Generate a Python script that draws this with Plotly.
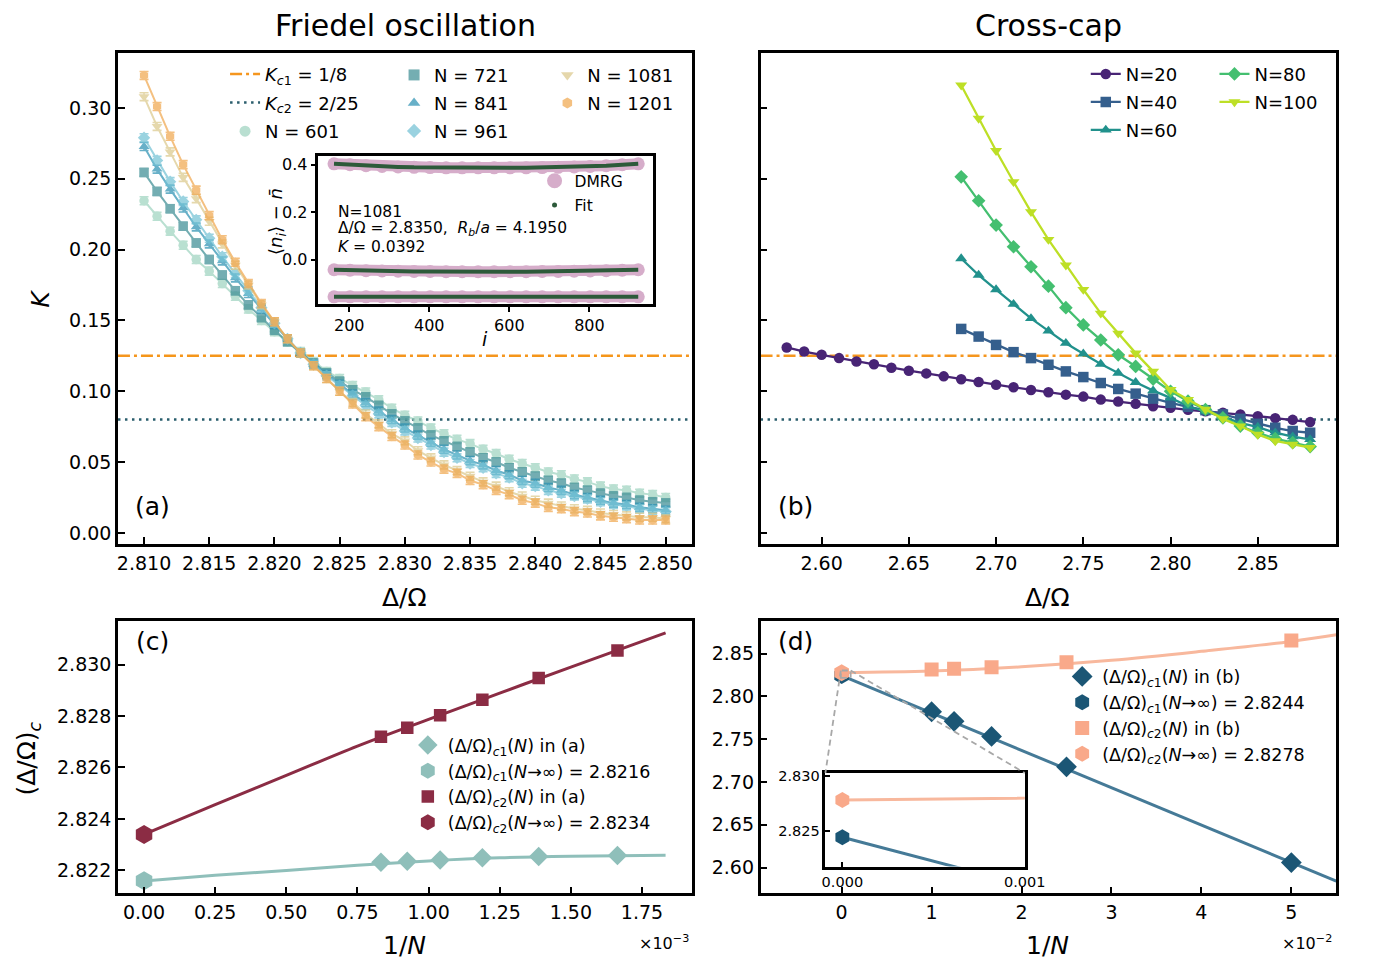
import plotly.graph_objects as go

W, H = 1375, 963
FONT = "DejaVu Sans"

# ---------------- panel (a): Friedel oscillation ----------------
delta_a = [2.810, 2.811, 2.812, 2.813, 2.814, 2.815, 2.816, 2.817, 2.818, 2.819,
           2.820, 2.821, 2.822, 2.823, 2.824, 2.825, 2.826, 2.827, 2.828, 2.829,
           2.830, 2.831, 2.832, 2.833, 2.834, 2.835, 2.836, 2.837, 2.838, 2.839,
           2.840, 2.841, 2.842, 2.843, 2.844, 2.845, 2.846, 2.847, 2.848, 2.849, 2.850]
K_601 = [0.2345, 0.2235, 0.213, 0.203, 0.193, 0.1848, 0.176, 0.167, 0.158, 0.150, 0.142, 0.135, 0.128,
         0.121, 0.114, 0.109, 0.104, 0.0995, 0.094, 0.088, 0.083, 0.079, 0.074, 0.070, 0.066, 0.063,
         0.059, 0.056, 0.052, 0.049, 0.046, 0.043, 0.041, 0.038, 0.036, 0.033, 0.031, 0.030, 0.028,
         0.027, 0.025]
K_721 = [0.2545, 0.2411, 0.2289, 0.2165, 0.2047, 0.193, 0.182, 0.171, 0.161, 0.152, 0.143, 0.135, 0.127,
         0.120, 0.113, 0.107, 0.101, 0.096, 0.090, 0.084, 0.079, 0.074, 0.069, 0.065, 0.061, 0.057,
         0.053, 0.050, 0.046, 0.043, 0.040, 0.037, 0.035, 0.032, 0.030, 0.028, 0.026, 0.025, 0.023,
         0.022, 0.021]
K_841 = [0.2728, 0.2568, 0.2427, 0.2294, 0.216, 0.204, 0.192, 0.180, 0.169, 0.158, 0.147, 0.137, 0.127,
         0.119, 0.112, 0.105, 0.098, 0.092, 0.086, 0.080, 0.074, 0.069, 0.064, 0.059, 0.055, 0.051,
         0.048, 0.044, 0.041, 0.037, 0.035, 0.032, 0.030, 0.027, 0.025, 0.023, 0.021, 0.020, 0.018,
         0.017, 0.016]
K_961 = [0.279, 0.263, 0.248, 0.234, 0.221, 0.208, 0.195, 0.183, 0.171, 0.159, 0.148, 0.137, 0.127,
         0.119, 0.111, 0.104, 0.097, 0.090, 0.084, 0.078, 0.072, 0.067, 0.062, 0.057, 0.053, 0.049,
         0.046, 0.042, 0.039, 0.035, 0.033, 0.030, 0.028, 0.026, 0.024, 0.022, 0.020, 0.019, 0.017,
         0.016, 0.015]
K_1081 = [0.308, 0.287, 0.269, 0.251, 0.236, 0.220, 0.204, 0.189, 0.175, 0.161, 0.149, 0.137, 0.127,
          0.118, 0.109, 0.100, 0.092, 0.084, 0.077, 0.070, 0.065, 0.058, 0.053, 0.048, 0.044, 0.040,
          0.036, 0.033, 0.029, 0.026, 0.023, 0.021, 0.019, 0.017, 0.016, 0.014, 0.013, 0.012, 0.011,
          0.011, 0.010]
K_1201 = [0.323, 0.301, 0.280, 0.260, 0.242, 0.224, 0.207, 0.191, 0.176, 0.162, 0.149, 0.137, 0.127,
          0.118, 0.109, 0.100, 0.091, 0.082, 0.075, 0.068, 0.062, 0.055, 0.050, 0.045, 0.042, 0.037,
          0.034, 0.030, 0.027, 0.023, 0.021, 0.018, 0.017, 0.015, 0.014, 0.012, 0.011, 0.010, 0.009,
          0.009, 0.009]
K_err = 0.0028
Kc1 = 1 / 8
Kc2 = 2 / 25

# inset of (a): density profile, N=1081
site_i = [162, 202, 242, 282, 322, 362, 402, 442, 482, 522,
          562, 602, 642, 682, 722, 762, 802, 842, 882, 922]
dn_top = [0.404, 0.400, 0.396, 0.393, 0.391, 0.389, 0.388, 0.387, 0.387, 0.387,
          0.387, 0.387, 0.387, 0.388, 0.389, 0.391, 0.393, 0.396, 0.400, 0.404]
dn_mid = [-0.042, -0.044, -0.046, -0.047, -0.048, -0.049, -0.049, -0.050, -0.050, -0.050,
          -0.050, -0.050, -0.050, -0.049, -0.049, -0.048, -0.047, -0.046, -0.044, -0.042]
dn_bot = [-0.156, -0.156, -0.156, -0.156, -0.156, -0.156, -0.156, -0.156, -0.156, -0.156,
          -0.156, -0.156, -0.156, -0.156, -0.156, -0.156, -0.156, -0.156, -0.156, -0.156]

# ---------------- panel (b): Cross-cap ----------------
delta_b20 = [2.58, 2.59, 2.60, 2.61, 2.62, 2.63, 2.64, 2.65, 2.66, 2.67, 2.68, 2.69, 2.70, 2.71, 2.72,
             2.73, 2.74, 2.75, 2.76, 2.77, 2.78, 2.79, 2.80, 2.81, 2.82, 2.83, 2.84, 2.85, 2.86, 2.87, 2.88]
delta_b = [2.68, 2.69, 2.70, 2.71, 2.72, 2.73, 2.74, 2.75, 2.76, 2.77, 2.78,
           2.79, 2.80, 2.81, 2.82, 2.83, 2.84, 2.85, 2.86, 2.87, 2.88]
K_b20 = [0.1309, 0.128, 0.1257, 0.1234, 0.121, 0.1191, 0.1166, 0.1145, 0.1126, 0.1105, 0.1084,
         0.1065, 0.1046, 0.1028, 0.1009, 0.0993, 0.0976, 0.0962, 0.0941, 0.0927, 0.0911, 0.0894,
         0.0883, 0.0869, 0.0859, 0.0848, 0.0836, 0.0824, 0.0810, 0.0798, 0.0782]
K_b40 = [0.144, 0.1386, 0.1327, 0.1276, 0.1234, 0.1187, 0.114, 0.110, 0.1058, 0.1016, 0.0983,
         0.0948, 0.0918, 0.089, 0.0866, 0.0836, 0.0805, 0.077, 0.0742, 0.0719, 0.0707]
K_b60 = [0.1937, 0.182, 0.1718, 0.1615, 0.1514, 0.1426, 0.1339, 0.1264, 0.1192, 0.1128, 0.1063,
         0.1004, 0.0953, 0.0894, 0.0859, 0.0819, 0.0777, 0.0747, 0.0707, 0.0679, 0.066]
K_b80 = [0.2514, 0.2345, 0.2173, 0.202, 0.1879, 0.1742, 0.159, 0.1468, 0.1362, 0.1257, 0.1175,
         0.1086, 0.100, 0.093, 0.0871, 0.0812, 0.0754, 0.0707, 0.0665, 0.0637, 0.0609]
K_b100 = [0.3161, 0.2926, 0.2698, 0.2479, 0.2267, 0.2071, 0.189, 0.1718, 0.155, 0.1409, 0.1269,
          0.114, 0.1011, 0.0941, 0.0871, 0.0805, 0.0754, 0.0695, 0.0649, 0.0625, 0.0602]

# ---------------- panel (c): extrapolation of (a) ----------------
N_c = [1201, 1081, 961, 841, 721, 601]
dc1_a = [2.82232, 2.82236, 2.82241, 2.82249, 2.82254, 2.82258]
dc2_a = [2.82719, 2.82754, 2.82803, 2.82863, 2.82948, 2.83055]
dc1_inf = 2.8216
dc2_inf = 2.8234
fit_c_x = [0.0, 0.00025, 0.0005, 0.00075, 0.001, 0.00125, 0.0015, 0.001833]
fit_c1_y = [2.82159, 2.82181, 2.82200, 2.82220, 2.82237, 2.82249, 2.82255, 2.82259]
fit_c2_y = [2.8234, 2.82456, 2.82569, 2.82683, 2.82787, 2.82889, 2.82990, 2.83123]

# ---------------- panel (d): extrapolation of (b) ----------------
N_d = [100, 80, 60, 40, 20]
dd1_b = [2.7821, 2.7709, 2.7532, 2.7177, 2.6058]
dd2_b = [2.8315, 2.8323, 2.8342, 2.8400, 2.8654]
dd1_inf = 2.8244
dd2_inf = 2.8278
fit_d_x = [0.0, 0.01, 0.02, 0.03, 0.04, 0.05, 0.055]
fit_d1_y = [2.8244, 2.7807, 2.7370, 2.6933, 2.6496, 2.6058, 2.5840]
fit_d2_y = [2.8278, 2.8296, 2.8346, 2.8423, 2.8527, 2.8643, 2.8720]

# ---------------- styling ----------------
C601, C721, C841, C961, C1081, C1201 = '#9fd4c0', '#3f8f95', '#2e92b3', '#74c2d5', '#dcc98c', '#f0a850'
ORANGE, DKTEAL = '#f5961e', '#2a5d6c'
V20, V40, V60, V80, V100 = '#482475', '#355f8d', '#21918c', '#44bf70', '#bddf26'
TEAL_C, RED_C = '#8fbfba', '#8b2c44'
BLUE_D, BLUE_DL, SAL_D, SAL_DL = '#1b5675', '#457a97', '#f9a98a', '#f8b89d'
PINK, DGREEN = '#d6adca', '#2d5a3a'

XA_RANGE = [2.808, 2.852]
XB_RANGE = [2.565, 2.895]
Y_AB_RANGE = [-0.008, 0.339]
XC_RANGE = [-0.0917, 1.925]    # units of 1e-3
YC_RANGE = [2.82111, 2.8317]
XD_RANGE = [-0.902, 5.5]       # units of 1e-2
YD_RANGE = [2.5698, 2.8884]
XIA_RANGE = [123, 960]
YIA_RANGE = [-0.188, 0.436]
XID_RANGE = [-0.000093, 0.0010008]
YID_RANGE = [2.82173, 2.83027]


def px(x):
    return x / W


def py(y):
    return 1 - y / H


DOM = {
    'a': ([px(117), px(701)], [py(542), py(48)]),
    'b': ([px(771), px(1357)], [py(542), py(48)]),
    'c': ([px(117), px(701)], [py(893), py(619)]),
    'd': ([px(771), px(1357)], [py(893), py(619)]),
    'ia': ([px(321), px(662)], [py(301), py(152)]),
    'id': ([px(837), px(1040)], [py(866), py(772)]),
}

fig = go.Figure()

# ---- panel (a) ----
series_a = [("N = 601", K_601, C601, "circle", "legend"),
            ("N = 721", K_721, C721, "square", "legend2"),
            ("N = 841", K_841, C841, "triangle-up", "legend2"),
            ("N = 961", K_961, C961, "diamond", "legend2"),
            ("N = 1081", K_1081, C1081, "triangle-down", "legend3"),
            ("N = 1201", K_1201, C1201, "hexagon", "legend3")]

for xax, yax, rng, show in [('x', 'y', XA_RANGE, True), ('x2', 'y2', XB_RANGE, False)]:
    fig.add_trace(go.Scatter(x=rng, y=[Kc1, Kc1], mode='lines', xaxis=xax, yaxis=yax,
                             line=dict(color=ORANGE, width=2.5, dash='12px,4px,3px,4px'),
                             name='<i>K</i><sub><i>c</i>1</sub> = 1/8', showlegend=show,
                             legend='legend', legendgroup='kc1'))
    fig.add_trace(go.Scatter(x=rng, y=[Kc2, Kc2], mode='lines', xaxis=xax, yaxis=yax,
                             line=dict(color=DKTEAL, width=2.5, dash='2.5px,4.5px'),
                             name='<i>K</i><sub><i>c</i>2</sub> = 2/25', showlegend=show,
                             legend='legend', legendgroup='kc2'))

for name, K, col, sym, leg in series_a:
    fig.add_trace(go.Scatter(x=delta_a, y=K, mode='lines+markers', xaxis='x', yaxis='y',
                             line=dict(color=col, width=2), opacity=0.72,
                             marker=dict(symbol=sym, size=9.5, color=col),
                             error_y=dict(type='constant', value=K_err, color=col, thickness=1.6, width=4.5),
                             showlegend=False))
    fig.add_trace(go.Scatter(x=[None], y=[None], mode='markers', xaxis='x', yaxis='y',
                             marker=dict(symbol=sym, size=11, color=col), opacity=0.72,
                             name=name, legend=leg, legendgroup=name))

# inset (a)
for band in (dn_top, dn_mid, dn_bot):
    fig.add_trace(go.Scatter(x=site_i, y=band, mode='lines+markers', xaxis='x5', yaxis='y5',
                             line=dict(color=PINK, width=11), marker=dict(size=13, color=PINK),
                             showlegend=False))
for band in (dn_top, dn_mid, dn_bot):
    fig.add_trace(go.Scatter(x=site_i, y=band, mode='lines', xaxis='x5', yaxis='y5',
                             line=dict(color=DGREEN, width=4), showlegend=False))
fig.add_trace(go.Scatter(x=[None], y=[None], mode='markers', xaxis='x5', yaxis='y5',
                         marker=dict(size=15, color=PINK), name='DMRG', legend='legend6',
                         legendgroup='dmrg'))
fig.add_trace(go.Scatter(x=[None], y=[None], mode='markers', xaxis='x5', yaxis='y5',
                         marker=dict(size=5, color=DGREEN), name='Fit', legend='legend6',
                         legendgroup='fit'))

# ---- panel (b) ----
series_b = [("N=20", delta_b20, K_b20, V20, "circle", "legend4"),
            ("N=40", delta_b, K_b40, V40, "square", "legend4"),
            ("N=60", delta_b, K_b60, V60, "triangle-up", "legend4"),
            ("N=80", delta_b, K_b80, V80, "diamond", "legend5"),
            ("N=100", delta_b, K_b100, V100, "triangle-down", "legend5")]
for name, xs, K, col, sym, leg in series_b:
    fig.add_trace(go.Scatter(x=xs, y=K, mode='lines+markers', xaxis='x2', yaxis='y2',
                             line=dict(color=col, width=2.3), marker=dict(symbol=sym, size=10.5, color=col),
                             name=name, legend=leg, legendgroup=name))

# ---- panel (c) ----
inv_c = [1e3 / n for n in N_c]
fit_cx = [v * 1e3 for v in fit_c_x]
fig.add_trace(go.Scatter(x=fit_cx, y=fit_c1_y, mode='lines', xaxis='x3', yaxis='y3',
                         line=dict(color=TEAL_C, width=3, shape='spline'), showlegend=False))
fig.add_trace(go.Scatter(x=fit_cx, y=fit_c2_y, mode='lines', xaxis='x3', yaxis='y3',
                         line=dict(color=RED_C, width=3, shape='spline'), showlegend=False))
fig.add_trace(go.Scatter(x=inv_c, y=dc1_a, mode='markers', xaxis='x3', yaxis='y3',
                         marker=dict(symbol='diamond', size=15, color=TEAL_C),
                         name='(Δ/Ω)<sub><i>c</i>1</sub>(<i>N</i>) in (a)', legend='legend7', legendgroup='c1'))
fig.add_trace(go.Scatter(x=[0], y=[dc1_inf], mode='markers', xaxis='x3', yaxis='y3',
                         marker=dict(symbol='hexagon', size=19, color=TEAL_C),
                         name='(Δ/Ω)<sub><i>c</i>1</sub>(<i>N</i>→∞) = 2.8216', legend='legend7',
                         legendgroup='c1i'))
fig.add_trace(go.Scatter(x=inv_c, y=dc2_a, mode='markers', xaxis='x3', yaxis='y3',
                         marker=dict(symbol='square', size=12.5, color=RED_C),
                         name='(Δ/Ω)<sub><i>c</i>2</sub>(<i>N</i>) in (a)', legend='legend7', legendgroup='c2'))
fig.add_trace(go.Scatter(x=[0], y=[dc2_inf], mode='markers', xaxis='x3', yaxis='y3',
                         marker=dict(symbol='hexagon', size=19, color=RED_C),
                         name='(Δ/Ω)<sub><i>c</i>2</sub>(<i>N</i>→∞) = 2.8234', legend='legend7',
                         legendgroup='c2i'))

# ---- panel (d) ----
inv_d = [1e2 / n for n in N_d]
fit_dx = [v * 1e2 for v in fit_d_x]
fig.add_trace(go.Scatter(x=fit_dx, y=fit_d1_y, mode='lines', xaxis='x4', yaxis='y4',
                         line=dict(color=BLUE_DL, width=3), showlegend=False))
fig.add_trace(go.Scatter(x=fit_dx, y=fit_d2_y, mode='lines', xaxis='x4', yaxis='y4',
                         line=dict(color=SAL_DL, width=3, shape='spline'), showlegend=False))
fig.add_trace(go.Scatter(x=inv_d, y=dd1_b, mode='markers', xaxis='x4', yaxis='y4',
                         marker=dict(symbol='diamond', size=16, color=BLUE_D),
                         name='(Δ/Ω)<sub><i>c</i>1</sub>(<i>N</i>) in (b)', legend='legend8', legendgroup='d1'))
fig.add_trace(go.Scatter(x=[0], y=[dd1_inf], mode='markers', xaxis='x4', yaxis='y4',
                         marker=dict(symbol='hexagon', size=17, color=BLUE_D),
                         name='(Δ/Ω)<sub><i>c</i>1</sub>(<i>N</i>→∞) = 2.8244', legend='legend8',
                         legendgroup='d1i'))
fig.add_trace(go.Scatter(x=inv_d, y=dd2_b, mode='markers', xaxis='x4', yaxis='y4',
                         marker=dict(symbol='square', size=14, color=SAL_D),
                         name='(Δ/Ω)<sub><i>c</i>2</sub>(<i>N</i>) in (b)', legend='legend8', legendgroup='d2'))
fig.add_trace(go.Scatter(x=[0], y=[dd2_inf], mode='markers', xaxis='x4', yaxis='y4',
                         marker=dict(symbol='hexagon', size=17, color=SAL_D),
                         name='(Δ/Ω)<sub><i>c</i>2</sub>(<i>N</i>→∞) = 2.8278', legend='legend8',
                         legendgroup='d2i'))

# inset (d)
fig.add_trace(go.Scatter(x=fit_d_x, y=fit_d2_y, mode='lines', xaxis='x6', yaxis='y6',
                         line=dict(color=SAL_DL, width=3), showlegend=False))
fig.add_trace(go.Scatter(x=fit_d_x, y=fit_d1_y, mode='lines', xaxis='x6', yaxis='y6',
                         line=dict(color=BLUE_DL, width=3), showlegend=False))
fig.add_trace(go.Scatter(x=[0], y=[dd1_inf], mode='markers', xaxis='x6', yaxis='y6',
                         marker=dict(symbol='hexagon', size=16, color=BLUE_D), showlegend=False))
fig.add_trace(go.Scatter(x=[0], y=[dd2_inf], mode='markers', xaxis='x6', yaxis='y6',
                         marker=dict(symbol='hexagon', size=16, color=SAL_D), showlegend=False))

# ---------------- axes ----------------
def axis(dom, rng, anchor, size=19, ticks='inside', tlen=7, **kw):
    d = dict(domain=dom, range=rng, anchor=anchor, showline=True, linecolor='black', linewidth=2.5,
             mirror=True, ticks=ticks, ticklen=tlen, tickwidth=1.6, tickcolor='black',
             showgrid=False, zeroline=False,
             tickfont=dict(size=size, family=FONT, color='black'))
    d.update(kw)
    return d


fig.update_layout(
    xaxis=axis(DOM['a'][0], XA_RANGE, 'y', tick0=2.81, dtick=0.005, tickformat='.3f'),
    yaxis=axis(DOM['a'][1], Y_AB_RANGE, 'x', tick0=0, dtick=0.05, tickformat='.2f'),
    xaxis2=axis(DOM['b'][0], XB_RANGE, 'y2', tick0=2.6, dtick=0.05, tickformat='.2f'),
    yaxis2=axis(DOM['b'][1], Y_AB_RANGE, 'x2', tick0=0, dtick=0.05, showticklabels=False),
    xaxis3=axis(DOM['c'][0], XC_RANGE, 'y3', tick0=0, dtick=0.25, tickformat='.2f'),
    yaxis3=axis(DOM['c'][1], YC_RANGE, 'x3', tick0=2.822, dtick=0.002, tickformat='.3f'),
    xaxis4=axis(DOM['d'][0], XD_RANGE, 'y4', tick0=0, dtick=1, tickformat='d'),
    yaxis4=axis(DOM['d'][1], YD_RANGE, 'x4', tick0=2.6, dtick=0.05, tickformat='.2f'),
    xaxis5=axis(DOM['ia'][0], XIA_RANGE, 'y5', size=16, ticks='outside', tlen=5,
                tickvals=[200, 400, 600, 800]),
    yaxis5=axis(DOM['ia'][1], YIA_RANGE, 'x5', size=16, ticks='outside', tlen=5,
                tickvals=[0.0, 0.2, 0.4], tickformat='.1f'),
    xaxis6=axis(DOM['id'][0], XID_RANGE, 'y6', size=14.5, tlen=5,
                tickvals=[0.0, 0.001], tickformat='.3f'),
    yaxis6=axis(DOM['id'][1], YID_RANGE, 'x6', size=14.5, tlen=5,
                tickvals=[2.825, 2.830], tickformat='.3f'),
)

# ---------------- legends ----------------
def leg(x_px, top_px, size=18, gap=0):
    return dict(x=px(x_px), y=py(top_px), xanchor='left', yanchor='top', bgcolor='rgba(0,0,0,0)',
                borderwidth=0, font=dict(size=size, family=FONT, color='black'),
                tracegroupgap=gap, orientation='v')


fig.update_layout(
    legend=leg(226, 51, gap=2.2),
    legend2=leg(398, 52, gap=1.6),
    legend3=leg(554, 52, gap=1.6),
    legend4=leg(1102, 51, gap=1.6),
    legend5=leg(1233, 51, gap=1.6),
    legend6=leg(541, 160, size=15.5, gap=1),
    legend7=leg(412, 726, size=17.5, gap=0),
    legend8=leg(1078, 657, size=17.5, gap=0),
)

# ---------------- mark_inset dashed connectors in (d) ----------------
def d_to_paper(xv, yv):
    (dx0, dx1), (dy0, dy1) = DOM['d']
    xp = dx0 + (xv - XD_RANGE[0]) / (XD_RANGE[1] - XD_RANGE[0]) * (dx1 - dx0)
    yp = dy0 + (yv - YD_RANGE[0]) / (YD_RANGE[1] - YD_RANGE[0]) * (dy1 - dy0)
    return xp, yp


rx0, ry0 = d_to_paper(XID_RANGE[0] * 100, YID_RANGE[0])
rx1, ry1 = d_to_paper(XID_RANGE[1] * 100, YID_RANGE[1])
GRAY = '#a8a8a8'
shapes = [
    dict(type='rect', xref='paper', yref='paper', x0=rx0, y0=ry0, x1=rx1, y1=ry1,
         line=dict(color=GRAY, width=1.8, dash='6px,4px')),
    dict(type='line', xref='paper', yref='paper', x0=rx0, y0=ry1,
         x1=DOM['id'][0][0], y1=DOM['id'][1][1], line=dict(color=GRAY, width=1.8, dash='6px,4px')),
    dict(type='line', xref='paper', yref='paper', x0=rx1, y0=ry1,
         x1=DOM['id'][0][1], y1=DOM['id'][1][1], line=dict(color=GRAY, width=1.8, dash='6px,4px')),
]
fig.update_layout(shapes=shapes)

# ---------------- text ----------------
def ann(text, x, y, size, xanchor='center', angle=0):
    return dict(text=text, x=px(x), y=py(y), xref='paper', yref='paper', showarrow=False,
                xanchor=xanchor, yanchor='middle', textangle=angle,
                font=dict(size=size, family=FONT, color='black'))


annotations = [
    ann('Friedel oscillation', 410, 21, 30),
    ann('Cross-cap', 1064, 21, 30),
    ann('Δ/Ω', 409, 596, 25),
    ann('Δ/Ω', 1063, 596, 25),
    ann('<i>K</i>', 38, 295, 25, angle=-90),
    ann('(Δ/Ω)<sub><i>c</i></sub>', 26, 758, 25, angle=-90),
    ann('1/<i>N</i>', 409, 945, 25),
    ann('1/<i>N</i>', 1063, 945, 25),
    ann('×10<sup>−3</sup>', 700, 942, 16, xanchor='right'),
    ann('×10<sup>−2</sup>', 1355, 942, 16, xanchor='right'),
    ann('(a)', 152, 504, 25),
    ann('(b)', 807, 504, 25),
    ann('(c)', 152, 640, 25),
    ann('(d)', 807, 640, 25),
    ann('N=1081', 339, 208, 15.5, xanchor='left'),
    ann('Δ/Ω = 2.8350,  <i>R</i><sub><i>b</i></sub>/<i>a</i> = 4.1950', 339, 225, 15.5, xanchor='left'),
    ann('<i>K</i> = 0.0392', 339, 243, 15.5, xanchor='left'),
    ann('<i>i</i>', 491, 336, 19),
    ann('⟨<i>n<sub>i</sub></i>⟩ − <i>n\u0304</i>', 279, 218, 18, angle=-90),
]

fig.update_layout(
    annotations=annotations,
    width=W, height=H, margin=dict(l=0, r=0, t=0, b=0),
    paper_bgcolor='white', plot_bgcolor='white',
    font=dict(family=FONT, color='black'),
)

fig.write_html("out.html")
